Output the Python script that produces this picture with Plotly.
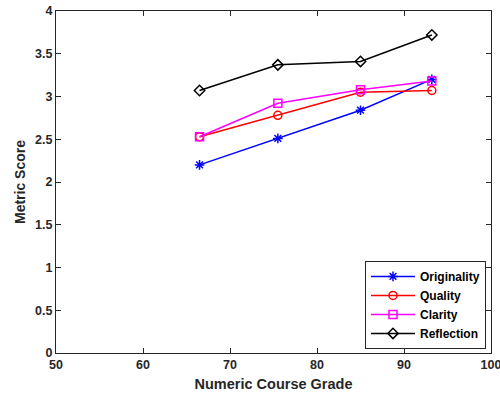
import plotly.graph_objects as go

grades = [66.5, 75.5, 85, 93.2]
originality = [2.20, 2.51, 2.84, 3.20]
quality = [2.53, 2.78, 3.05, 3.07]
clarity = [2.53, 2.92, 3.08, 3.18]
reflection = [3.07, 3.37, 3.41, 3.72]

series = [
    ("Originality", originality, "#0000ff", "asterisk-open"),
    ("Quality", quality, "#ff0000", "circle-open"),
    ("Clarity", clarity, "#ff00ff", "square-open"),
    ("Reflection", reflection, "#000000", "diamond-open"),
]

fig = go.Figure()
for name, vals, col, sym in series:
    fig.add_trace(go.Scatter(
        x=grades, y=vals, name=name, mode="lines+markers",
        line=dict(color=col, width=1.5),
        marker=dict(symbol=sym, size=8, color=col, line=dict(color=col, width=1.5)),
    ))

font = dict(family="Liberation Sans, Arial, sans-serif", size=12, color="#262626")
axis_common = dict(
    showgrid=False, zeroline=False, showline=True, linecolor="#262626", linewidth=1,
    mirror="ticks", ticks="inside", ticklen=5, tickcolor="#262626",
    automargin=False, ticklabeloverflow="allow",
    tickfont=dict(family="Liberation Sans, Arial, sans-serif", size=12.5, color="#262626", weight="bold"),
)
fig.update_layout(
    width=500, height=396,
    margin=dict(l=56, r=9, t=11, b=43),
    paper_bgcolor="white", plot_bgcolor="white",
    font=font,
    xaxis=dict(range=[50, 100], tickvals=[50, 60, 70, 80, 90, 100],
               title=dict(text="<b>Numeric Course Grade</b>", font=dict(size=14.5), standoff=7),
               **axis_common),
    yaxis=dict(range=[0, 4], tickvals=[0, 0.5, 1, 1.5, 2, 2.5, 3, 3.5, 4],
               ticktext=["0", "0.5", "1", "1.5", "2", "2.5", "3", "3.5", "4"],
               title=dict(text="<b>Metric Score</b>", font=dict(size=14), standoff=6),
               **axis_common),
    legend=dict(x=0.9885, y=0.012, xanchor="right", yanchor="bottom",
                bgcolor="white", bordercolor="#262626", borderwidth=1,
                font=dict(family="Liberation Sans, Arial, sans-serif", size=12, color="#000000", weight="bold"),
                tracegroupgap=0, itemwidth=44),
    showlegend=True,
)
fig.write_html("out.html", config={"displayModeBar": False},
               post_script="document.body.style.margin='0';")
